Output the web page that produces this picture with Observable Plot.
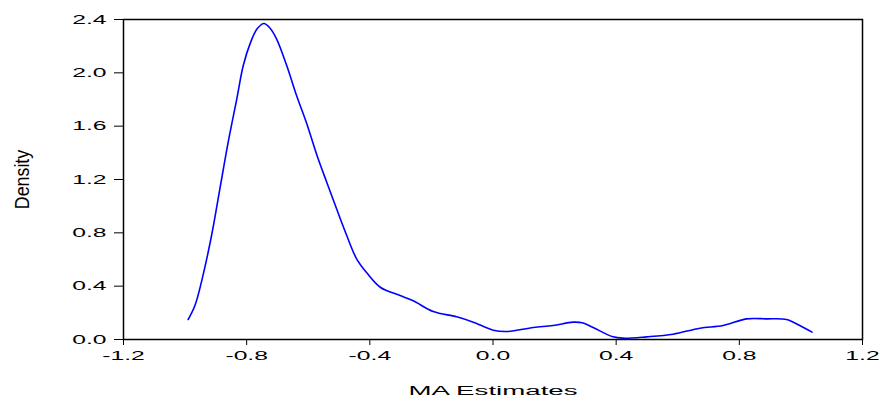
<!DOCTYPE html>
<html>
<head>
<meta charset="utf-8">
<script src="https://cdn.jsdelivr.net/npm/d3@7"></script>
<script src="https://cdn.jsdelivr.net/npm/@observablehq/plot@0.6"></script>
<style>
  html, body { margin: 0; padding: 0; background: #fff; }
  #chart svg { display: block; }
</style>
</head>
<body>
<div id="chart"></div>
<script>
// Kernel density of MA estimates
const maEstimate = [-0.990, -0.968, -0.946, -0.914, -0.887, -0.860, -0.832, -0.811, -0.787, -0.766,
  -0.744, -0.724, -0.703, -0.670, -0.638, -0.605, -0.573, -0.540, -0.508, -0.475,
  -0.443, -0.410, -0.365, -0.302, -0.259, -0.194, -0.118, -0.064, 0.001, 0.044,
  0.131, 0.195, 0.260, 0.290, 0.325, 0.390, 0.423, 0.499, 0.585, 0.672,
  0.747, 0.823, 0.888, 0.953, 0.996, 1.036];
const density = [0.15, 0.255, 0.44, 0.78, 1.13, 1.48, 1.805, 2.055, 2.23, 2.33,
  2.37, 2.335, 2.255, 2.055, 1.83, 1.62, 1.39, 1.18, 0.98, 0.78,
  0.605, 0.50, 0.39, 0.33, 0.29, 0.21, 0.17, 0.13, 0.07, 0.06,
  0.09, 0.105, 0.13, 0.125, 0.09, 0.02, 0.01, 0.02, 0.04, 0.085,
  0.105, 0.155, 0.155, 0.15, 0.105, 0.055];
const xTicks = [-1.2, -0.8, -0.4, 0.0, 0.4, 0.8, 1.2];
const yTicks = [0.0, 0.4, 0.8, 1.2, 1.6, 2.0, 2.4];
const xLabel = "MA Estimates";
const yLabel = "Density";

const rows = maEstimate.map((x, i) => ({x, y: density[i]}));
const fmt = d => d.toFixed(1);

const chart = Plot.plot({
  width: 880,
  height: 403,
  marginLeft: 123,
  marginRight: 18,
  marginTop: 19,
  marginBottom: 64,
  style: {fontFamily: "'Liberation Sans', Arial, sans-serif", fontSize: "13px", background: "#fff", color: "#000"},
  x: {domain: [-1.2, 1.2]},
  y: {domain: [0, 2.4]},
  marks: [
    Plot.axisX({ticks: xTicks, tickFormat: fmt, tickSize: 6, tickPadding: 5, label: xLabel, labelAnchor: "center", labelOffset: 55, labelArrow: "none", fontSize: 13}),
    Plot.axisY({ticks: yTicks, tickFormat: fmt, tickSize: 9, tickPadding: 8, label: yLabel, labelAnchor: "center", labelOffset: 109, labelArrow: "none", fontSize: 13}),
    Plot.line(rows, {x: "x", y: "y", stroke: "#0000ff", strokeWidth: 1.6, curve: "catmull-rom"}),
    Plot.frame({stroke: "#000", strokeWidth: 1.5})
  ]
});

document.getElementById("chart").appendChild(chart);

// Stretch tick and axis label text like the reference
function stretch(sel, sx) {
  d3.select(chart).selectAll(sel).each(function() {
    const t = d3.select(this);
    let tr = t.attr("transform") || "";
    const x = t.attr("x");
    if (x != null && isFinite(+x)) {
      tr = tr + ` translate(${+x},0)`;
      t.attr("x", null);
    }
    t.attr("transform", tr + ` scale(${sx},1)`);
  });
}
stretch("g[aria-label='x-axis tick label'] text", 1.9);
stretch("g[aria-label='y-axis tick label'] text", 1.9);
d3.select(chart).selectAll("g[aria-label='x-axis label'] text").style("font-size", "13.5px");
stretch("g[aria-label='x-axis label'] text", 2.05);
d3.select(chart).selectAll("g[aria-label='y-axis label'] text").style("font-size", "21px");
stretch("g[aria-label='y-axis label'] text", 0.85);
</script>
</body>
</html>
